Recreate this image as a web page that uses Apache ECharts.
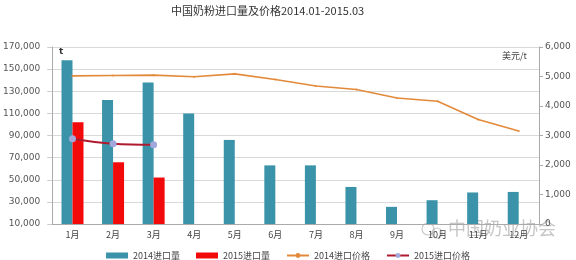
<!DOCTYPE html>
<html>
<head>
<meta charset="utf-8">
<script src="https://cdn.jsdelivr.net/npm/echarts@6/dist/echarts.min.js"></script>
<style>html,body{margin:0;padding:0;background:#fff;}#c{width:576px;height:260px;}</style>
</head>
<body>
<div id="c"></div>
<script>
const categories = ['1月','2月','3月','4月','5月','6月','7月','8月','9月','10月','11月','12月'];
const import2014 = [158000,122000,138000,110000,86000,63000,63000,43500,25500,31500,38500,39000];
const import2015 = [102000,65800,52000];
const price2014 = [5020,5035,5045,4990,5090,4900,4680,4560,4270,4160,3545,3150];
const price2015 = [2890,2720,2685];
const leftTicks = [10000,170000,20000];
const rightTicks = [0,6000,1000];

const chart = echarts.init(document.getElementById('c'), null, {renderer:'canvas'});
const lblFont = 'DejaVu Sans';
const cjk = '"Noto Sans CJK SC", "DejaVu Sans", sans-serif';
chart.setOption({
  animation:false,
  backgroundColor:'#fff',
  title:{text:'中国奶粉进口量及价格2014.01-2015.03', left:166, top:0,
    textStyle:{fontFamily:cjk, fontSize:11, fontWeight:'normal', color:'#333'}},
  grid:{left:51, right:37, top:47, bottom:36},
  legend:{top:246, left:'center', itemWidth:22, itemHeight:6, itemGap:16,
    textStyle:{fontFamily:cjk, fontSize:9, color:'#444'},
    data:[{name:'2014进口量', icon:'rect'},{name:'2015进口量', icon:'rect'},'2014进口价格','2015进口价格']},
  xAxis:{type:'category', data:categories,
    axisLine:{lineStyle:{color:'#aaa'}}, axisTick:{show:false},
    axisLabel:{fontFamily:cjk, fontSize:9, color:'#444', margin:6}},
  yAxis:[
    {type:'value', min:leftTicks[0], max:leftTicks[1], interval:leftTicks[2],
     axisLine:{show:true, lineStyle:{color:'#aaa'}}, axisTick:{show:true, length:5, lineStyle:{color:'#ccc'}},
     splitLine:{lineStyle:{color:'#d9d9d9'}},
     axisLabel:{fontFamily:lblFont, fontSize:9, color:'#555', margin:12,
       formatter:v=>v.toLocaleString('en-US')}},
    {type:'value', min:rightTicks[0], max:rightTicks[1], interval:rightTicks[2], position:'right',
     axisLine:{show:true, lineStyle:{color:'#aaa'}}, axisTick:{show:true, length:4, lineStyle:{color:'#aaa'}},
     splitLine:{show:false},
     axisLabel:{fontFamily:lblFont, fontSize:9, color:'#555', margin:6,
       formatter:v=>v.toLocaleString('en-US')}}
  ],
  series:[
    {name:'2014进口量', type:'bar', data:import2014, barWidth:11, barGap:'0%', itemStyle:{color:'#3a93a8'}},
    {name:'2015进口量', type:'bar', data:import2015, barWidth:11, itemStyle:{color:'#f20a0a'}},
    {name:'2014进口价格', type:'line', yAxisIndex:1, data:price2014, symbol:'circle', symbolSize:2,
     lineStyle:{color:'#e38a3a', width:1.6}, itemStyle:{color:'#e38a3a'}},
    {name:'2015进口价格', type:'line', yAxisIndex:1, data:price2015, smooth:0.4, symbol:'circle', symbolSize:7,
     lineStyle:{color:'#b01a2e', width:2}, itemStyle:{color:'#a3a8dc'}}
  ],
  graphic:[
    {type:'text', left:59, top:47, style:{text:'t', font:'bold 9px "DejaVu Sans"', fill:'#333'}},
    {type:'text', right:49, top:51, style:{text:'美元/t', font:'9px "Noto Sans CJK SC"', fill:'#444'}},
    {type:'circle', shape:{cx:428, cy:229, r:6}, style:{fill:'none', stroke:'rgba(150,150,150,0.5)', lineWidth:1.2}},
    {type:'circle', shape:{cx:437, cy:233, r:5}, style:{fill:'none', stroke:'rgba(150,150,150,0.5)', lineWidth:1.2}},
    {type:'text', left:448, top:219, style:{text:'中国奶业协会', font:'18px "Noto Sans CJK SC"', fill:'rgba(140,140,140,0.5)'}}
  ]
});
</script>
</body>
</html>
